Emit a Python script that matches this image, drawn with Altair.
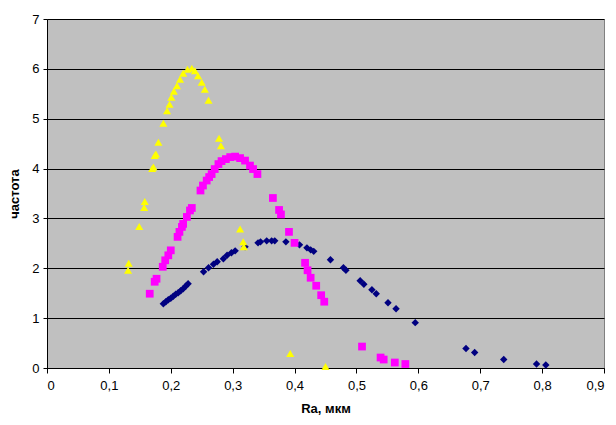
import altair as alt
import pandas as pd

# Series 1 (navy diamonds)
navy_x = [0.188, 0.192, 0.196, 0.200, 0.204, 0.208, 0.212, 0.216, 0.220, 0.224, 0.228,
          0.253, 0.261, 0.269, 0.275, 0.285, 0.291, 0.298, 0.304, 0.320, 0.341, 0.345,
          0.355, 0.363, 0.368, 0.386, 0.408, 0.420, 0.426, 0.431, 0.458, 0.479, 0.483,
          0.506, 0.512, 0.525, 0.532, 0.551, 0.564, 0.595, 0.677, 0.691, 0.738, 0.791, 0.806]
navy_y = [1.29, 1.33, 1.37, 1.40, 1.44, 1.48, 1.51, 1.55, 1.59, 1.64, 1.69,
          1.93, 2.01, 2.08, 2.13, 2.19, 2.26, 2.31, 2.35, 2.43, 2.51, 2.53,
          2.55, 2.55, 2.55, 2.53, 2.47, 2.41, 2.37, 2.34, 2.17, 2.01, 1.96,
          1.75, 1.68, 1.57, 1.49, 1.31, 1.19, 0.91, 0.39, 0.31, 0.17, 0.08, 0.06]

# Series 2 (magenta squares)
mag_x = [0.166, 0.174, 0.177, 0.187, 0.191, 0.196, 0.200, 0.211, 0.214, 0.218, 0.220,
         0.226, 0.231, 0.234, 0.248, 0.252, 0.258, 0.262, 0.266, 0.271, 0.277, 0.282,
         0.289, 0.296, 0.304, 0.312, 0.320, 0.328, 0.333, 0.340, 0.365, 0.375, 0.378,
         0.391, 0.400, 0.417, 0.421, 0.426, 0.435, 0.443, 0.448, 0.509, 0.539, 0.544,
         0.562, 0.579]
mag_y = [1.49, 1.73, 1.79, 2.03, 2.16, 2.26, 2.36, 2.63, 2.73, 2.83, 2.89,
         3.03, 3.16, 3.21, 3.56, 3.66, 3.76, 3.83, 3.89, 3.99, 4.09, 4.15,
         4.19, 4.23, 4.24, 4.21, 4.16, 4.06, 3.99, 3.89, 3.41, 3.17, 3.08,
         2.73, 2.51, 2.11, 1.96, 1.81, 1.65, 1.46, 1.33, 0.43, 0.21, 0.17,
         0.11, 0.08]

# Series 3 (yellow triangles)
yel_x = [0.131, 0.132, 0.149, 0.157, 0.158, 0.170, 0.172, 0.174, 0.176, 0.180, 0.188,
         0.194, 0.198, 0.201, 0.205, 0.210, 0.215, 0.220, 0.227, 0.234, 0.239, 0.244,
         0.250, 0.255, 0.261, 0.278, 0.281, 0.312, 0.317, 0.318, 0.393, 0.450]
yel_y = [1.96, 2.10, 2.84, 3.22, 3.34, 4.00, 4.03, 4.26, 4.29, 4.53, 4.91,
         5.16, 5.29, 5.43, 5.55, 5.66, 5.79, 5.91, 5.99, 6.01, 5.96, 5.86,
         5.73, 5.59, 5.37, 4.61, 4.46, 2.79, 2.53, 2.43, 0.29, 0.03]

x_ticks = [0, 0.1, 0.2, 0.3, 0.4, 0.5, 0.6, 0.7, 0.8, 0.9]
y_ticks = [0, 1, 2, 3, 4, 5, 6, 7]

FONT = "Liberation Sans"

def frame(xs, ys, name):
    return pd.DataFrame({"x": xs, "y": ys, "s": name})

x_enc = alt.X("x:Q", scale=alt.Scale(domain=[0, 0.9], nice=False, zero=False),
              axis=alt.Axis(values=x_ticks, title="Ra, мкм", grid=False,
                            labelExpr="replace(format(datum.value, '.1~f'), '.', ',')",
                            tickSize=5, labelPadding=6, titlePadding=10))
y_enc = alt.Y("y:Q", scale=alt.Scale(domain=[0, 7], nice=False),
              axis=alt.Axis(values=y_ticks, title="частота", grid=True,
                            gridColor="black", gridOpacity=1, gridWidth=1,
                            tickSize=4, labelPadding=4, titlePadding=10,
                            format="d"))

def layer(df, shape, color, size):
    return alt.Chart(df).mark_point(shape=shape, filled=True, color=color,
                                    size=size, opacity=1).encode(x=x_enc, y=y_enc)

navy = layer(frame(navy_x, navy_y, "a"), "diamond", "#000080", 55)
mag = layer(frame(mag_x, mag_y, "b"), "square", "#FF00FF", 60)
yel = layer(frame(yel_x, yel_y, "c"), "triangle-up", "#FFFF00", 65)

chart = alt.layer(navy, mag, yel).properties(
    width=557, height=349,
    autosize=alt.AutoSizeParams(type="none"),
    padding={"left": 39, "top": 11, "right": 4, "bottom": 49},
    background="white",
).configure_view(
    fill="#C0C0C0", stroke="#808080", strokeWidth=1
).configure_axis(
    labelFont=FONT, titleFont=FONT, labelFontSize=13, titleFontSize=13,
    titleFontWeight="bold", labelColor="black", titleColor="black",
    domainColor="black", tickColor="black", domainWidth=1, tickWidth=1,
)

chart.save("out.html", embed_options={"renderer": "svg", "actions": False})
